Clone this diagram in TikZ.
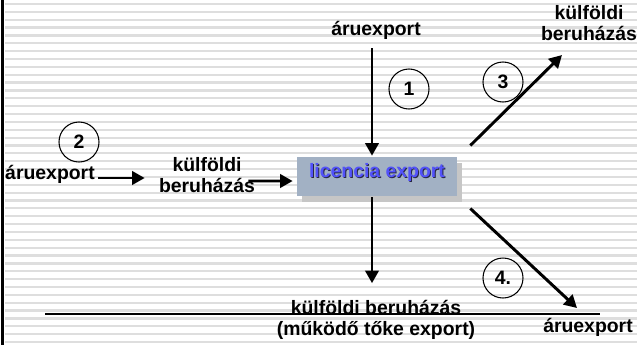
\documentclass[tikz,border=0pt]{standalone}
\usepackage{fontspec}
\setmainfont{Liberation Sans}
\usepackage{tikz}
\usetikzlibrary{arrows.meta,shapes,positioning,shadows}
\usepackage{xcolor}
\definecolor{stripegray}{RGB}{222,222,222}
\definecolor{boxblue}{RGB}{162,177,196}
\definecolor{licblue}{RGB}{82,82,250}
\definecolor{licshade}{RGB}{40,40,70}
\definecolor{baseline}{RGB}{100,100,100}
\tikzstyle{arrow} = [line width=2.1pt,-{Triangle[length=9pt,width=9.5pt]}]
\tikzstyle{label} = [font=\fontsize{13.8}{14.8}\selectfont\bfseries,align=center,inner sep=0pt]
\tikzstyle{num} = [circle,draw,line width=0.75pt,minimum size=1cm,inner sep=0pt,font=\fontsize{13.8}{14.8}\selectfont\bfseries]
\tikzstyle{stripe} = [line width=1.6pt,color=stripegray]

\begin{document}
\begin{tikzpicture}[x=0.025cm,y=-0.025cm]
\useasboundingbox (0,0) rectangle (637,345);
% Striped background
\foreach \k in {0,...,43} {
    \draw[stripe] (5,{4+7.86*\k}) -- (637,{4+7.86*\k});
}
\draw[line width=2.1pt] (2.5,0) -- (2.5,345);

% Centre box
\node[draw=none,fill=boxblue,minimum width=4cm,minimum height=0.975cm,
      drop shadow={shadow xshift=3.6pt,shadow yshift=-4.2pt,fill=gray!45,opacity=1}]
      (lic) at (377,176.5) {};
\node[label,licshade] (licshadow) at (378,173) {licencia export};
\node[label,licblue] (lictext) at (377,172) {licencia export};

% Labels
\node[label] (topexp) at (376,30) {áruexport};
\node[label] (leftexp) at (50,174) {áruexport};
\node[label] (midinv) at (207,175) {külföldi\\beruházás};
\node[label] (trinv) at (589,23) {külföldi\\beruházás};
\node[label] (botinv) at (376,320) {külföldi beruházás\\(működő tőke export)};
\node[label] (brexp) at (588,327) {áruexport};

% Numbered circles
\node[num] (n1) at (409,89) {1};
\node[num] (n2) at (79,142) {2};
\node[num] (n3) at (503,82) {3};
\node[num] (n4) at (503,278) {4.};

% Free ends
\coordinate (e3) at (562,55);
\coordinate (e4) at (577,308);

% Arrows
\draw[arrow] ([shift={(-4,9)}]topexp.south) -- ([shift={(-5,-1)}]lic.north);
\draw[arrow] ([shift={(3,4)}]leftexp.east) -- ([shift={(-14,3)}]midinv.west);
\draw[arrow] ([shift={(-7,6)}]midinv.east) -- ([shift={(-4,4.5)}]lic.west);
\draw[arrow] ([shift={(-5,1)}]lic.south) -- ([shift={(-4,-17)}]botinv.north);
\draw[arrow] ([shift={(13,-31)}]lic.east) -- (e3);
\draw[arrow] ([shift={(13,32)}]lic.east) -- (e4);

% Base line
\draw[baseline,line width=0.8pt] (45,314) -- (600,314);
\end{tikzpicture}
\end{document}
